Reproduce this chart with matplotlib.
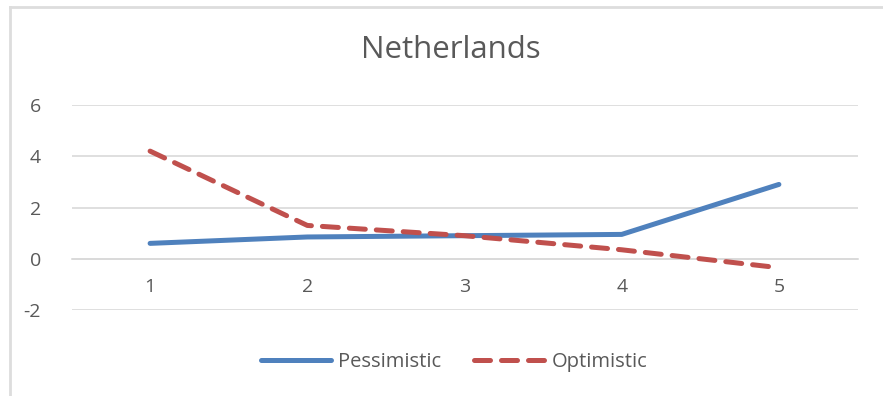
import matplotlib
matplotlib.use("Agg")
import matplotlib.pyplot as plt
from matplotlib.lines import Line2D

# Scenario values per period
periods = [1, 2, 3, 4, 5]
pessimistic = [0.6, 0.85, 0.9, 0.95, 2.9]
optimistic = [4.2, 1.3, 0.9, 0.35, -0.35]
yticks = [-2, 0, 2, 4, 6]

text_col = "#595959"
grid_col = "#D9D9D9"
blue = "#4F81BD"
red = "#C0504D"

plt.rcParams['font.family'] = ['Open Sans', 'DejaVu Sans']
plt.rcParams['axes.unicode_minus'] = False

fig = plt.figure(figsize=(8.83, 3.96), dpi=100)
ax = fig.add_axes([71.5 / 883, 1 - 310 / 396, 786 / 883, 205 / 396])

# chart frame edges (top and left)
fig.add_artist(Line2D([10 / 883, 1], [1 - 7 / 396, 1 - 7 / 396], color="#DDDDDD", lw=2))
fig.add_artist(Line2D([10 / 883, 10 / 883], [0, 1 - 7 / 396], color="#DDDDDD", lw=2))

ax.plot(periods, pessimistic, color=blue, lw=3.6, solid_capstyle="round",
        solid_joinstyle="round", label="Pessimistic", zorder=3)
ax.plot(periods, optimistic, color=red, lw=3.6, dashes=(3.2, 2.2),
        dash_capstyle="round", label="Optimistic", zorder=3)

ax.set_xlim(0.5, 5.5)
ax.set_ylim(-2, 6)
ax.set_yticks(yticks)
ax.set_xticks(periods)
ax.grid(axis="y", color=grid_col, lw=1.2)
ax.set_axisbelow(True)

for s in ["top", "right", "left"]:
    ax.spines[s].set_visible(False)
ax.spines["bottom"].set_position(("data", 0))
ax.spines["bottom"].set_color(grid_col)
ax.spines["bottom"].set_linewidth(1.2)

ax.tick_params(axis="both", length=0, labelsize=14, colors=text_col)
ax.tick_params(axis="x", pad=14)
ax.tick_params(axis="y", pad=22)

fig.text(450.5 / 883, 1 - 50 / 396, "Netherlands", ha="center", va="center",
         fontsize=22.5, color=text_col)

fig.legend(loc="center", bbox_to_anchor=(454 / 883, 1 - 362 / 396), ncol=2,
           frameon=False, fontsize=14.5, labelcolor=text_col, handlelength=3.5,
           handletextpad=0.35, columnspacing=1.6)

fig.savefig("out.png", dpi=100)
